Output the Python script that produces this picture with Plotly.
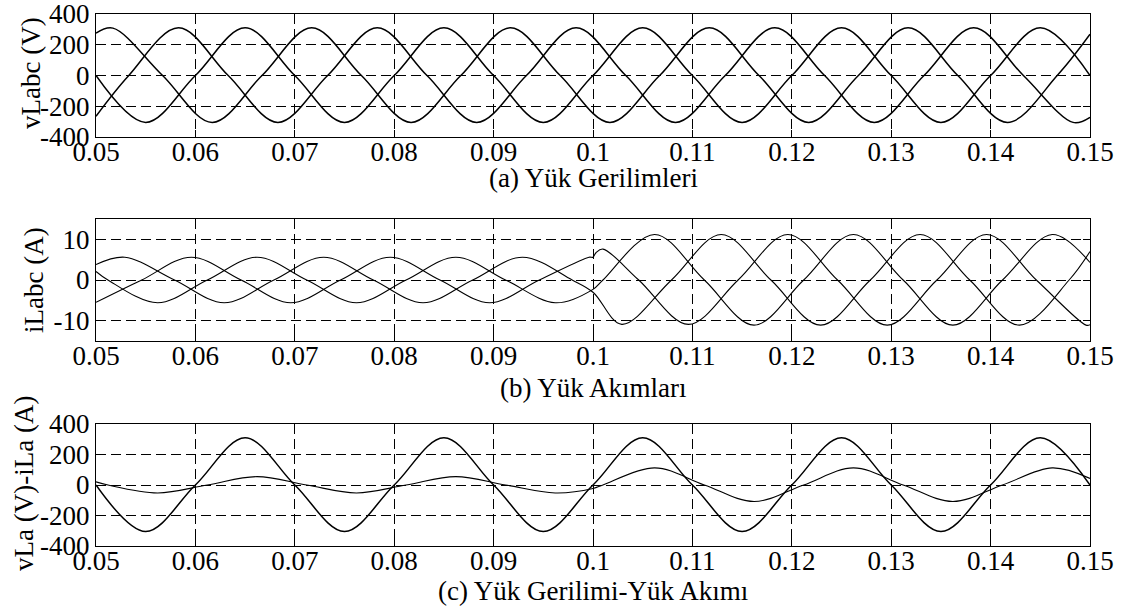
import plotly.graph_objects as go

# ---------------- data ----------------
# (a) load voltages, phase a / b / c  (keypoints: peaks, zero crossings, ends)
va_t = [0.05, 0.055, 0.06, 0.065, 0.07, 0.075, 0.08, 0.085, 0.09, 0.095, 0.1,
        0.105, 0.11, 0.115, 0.12, 0.125, 0.13, 0.135, 0.14, 0.145, 0.15]
va_v = [0, -305, 0, 310, 0, -305, 0, 310, 0, -305, 0,
        310, 0, -305, 0, 310, 0, -305, 0, 310, 0]

vb_t = [0.05, 0.0517, 0.0567, 0.0617, 0.0667, 0.0717, 0.0767, 0.0817, 0.0867, 0.0917, 0.0967,
        0.1017, 0.1067, 0.1117, 0.1167, 0.1217, 0.1267, 0.1317, 0.1367, 0.1417, 0.1467, 0.15]
vb_v = [275, 308, 0, -305, 0, 310, 0, -305, 0, 310, 0,
        -305, 0, 310, 0, -305, 0, 310, 0, -305, 0, 268]

vc_t = [0.05, 0.0533, 0.0583, 0.0633, 0.0683, 0.0733, 0.0783, 0.0833, 0.0883, 0.0933, 0.0983,
        0.1033, 0.1083, 0.1133, 0.1183, 0.1233, 0.1283, 0.1333, 0.1383, 0.1433, 0.1483, 0.15]
vc_v = [-265, 0, 310, 0, -305, 0, 310, 0, -305, 0, 310,
        0, -305, 0, 310, 0, -305, 0, 310, 0, -305, -272]

# (b) load currents, phase a / b / c
ia_t = [0.05, 0.0512, 0.0562, 0.0612, 0.0662, 0.0712, 0.0762, 0.0812, 0.0862, 0.0912, 0.0962, 0.1,
        0.1010, 0.1062, 0.1112, 0.1162, 0.1212, 0.1262, 0.1312, 0.1362, 0.1412, 0.1462, 0.15]
ia_v = [2.1, 0, -5.6, 0, 5.6, 0, -5.6, 0, 5.6, 0, -5.6, -2.3,
        0, 11.2, 0, -11.1, 0, 11.2, 0, -11.1, 0, 11.2, 4.3]

ib_t = [0.05, 0.0529, 0.0579, 0.0629, 0.0679, 0.0729, 0.0779, 0.0829, 0.0879, 0.0929, 0.0979, 0.1,
        0.1029, 0.1079, 0.1129, 0.1179, 0.1229, 0.1279, 0.1329, 0.1379, 0.1429, 0.1479, 0.15]
ib_v = [3.8, 5.6, 0, -5.6, 0, 5.6, 0, -5.6, 0, 5.6, 0, -3.0,
        -10.9, 0, 11.2, 0, -11.1, 0, 11.2, 0, -11.1, 0, 7.0]

ic_t = [0.05, 0.0546, 0.0596, 0.0646, 0.0696, 0.0746, 0.0796, 0.0846, 0.0896, 0.0946, 0.0996, 0.1,
        0.1003, 0.1010, 0.1046, 0.1096, 0.1146, 0.1196, 0.1246, 0.1296, 0.1346, 0.1396, 0.1446, 0.1496, 0.15]
ic_v = [-5.5, 0, 5.6, 0, -5.6, 0, 5.6, 0, -5.6, 0, 5.6, 5.6,
        6.7, 7.6, 0, -10.9, 0, 11.2, 0, -11.1, 0, 11.2, 0, -11.1, -11.0]

# (c) phase-a voltage (uses va_*) and phase-a current drawn x10
ila_t = ia_t
ila_v = [21, 0, -52, 0, 55, 0, -52, 0, 55, 0, -52, -23,
         0, 112, 0, -108, 0, 112, 0, -108, 0, 112, 43]

x_ticks = [0.05, 0.06, 0.07, 0.08, 0.09, 0.1, 0.11, 0.12, 0.13, 0.14, 0.15]
x_tick_labels = ["0.05", "0.06", "0.07", "0.08", "0.09", "0.1",
                 "0.11", "0.12", "0.13", "0.14", "0.15"]
v_ticks = [-400, -200, 0, 200, 400]
v_tick_labels = ["-400", "-200", "0", "200", "400"]
i_ticks = [-10, 0, 10]
i_tick_labels = ["-10", "0", "10"]

captions = ["(a) Yük Gerilimleri", "(b) Yük Akımları", "(c) Yük Gerilimi-Yük Akımı"]
y_titles = ["vLabc (V)", "iLabc (A)", "vLa (V)-iLa (A)"]

# ---------------- figure ----------------
W, H = 1126, 611
FONT = "Liberation Serif"
FS = 27


def fx(p):
    return p / W


def fy(p):
    return 1 - p / H


fig = go.Figure()

volt_line = dict(color="black", width=1.5, shape="spline", smoothing=1.0)
cur_line = dict(color="black", width=1.1, shape="spline", smoothing=1.0)

for t, v in [(va_t, va_v), (vb_t, vb_v), (vc_t, vc_v)]:
    fig.add_trace(go.Scatter(x=t, y=v, mode="lines", line=volt_line,
                             xaxis="x", yaxis="y", showlegend=False))
for t, v in [(ia_t, ia_v), (ib_t, ib_v), (ic_t, ic_v)]:
    fig.add_trace(go.Scatter(x=t, y=v, mode="lines", line=cur_line,
                             xaxis="x2", yaxis="y2", showlegend=False))
fig.add_trace(go.Scatter(x=va_t, y=va_v, mode="lines", line=volt_line,
                         xaxis="x3", yaxis="y3", showlegend=False))
fig.add_trace(go.Scatter(x=ila_t, y=ila_v, mode="lines", line=cur_line,
                         xaxis="x3", yaxis="y3", showlegend=False))

x_dom = [fx(96), fx(1090)]
y_doms = [[fy(137), fy(14)], [fy(341), fy(219)], [fy(546), fy(424)]]

common = dict(showline=True, linecolor="black", linewidth=1.2, mirror="ticks",
              ticks="inside", ticklen=7, tickcolor="black", tickwidth=1,
              showgrid=True, gridcolor="black", gridwidth=1, griddash="10px,5px",
              zeroline=False, automargin=False, ticklabeloverflow="allow",
              tickfont=dict(family=FONT, size=FS, color="black"))

layout = dict(width=W, height=H, margin=dict(l=0, r=0, t=0, b=0, pad=0),
              paper_bgcolor="white", plot_bgcolor="white", showlegend=False)

for k in range(3):
    sx = "" if k == 0 else str(k + 1)
    layout["xaxis" + sx] = dict(common, domain=x_dom, anchor="y" + sx,
                                range=[0.05, 0.15], tickvals=x_ticks,
                                ticktext=x_tick_labels,
                                ticklabelposition="outside", ticklabelstandoff=-10)
    if k == 1:
        yr, tv, tt = [-15, 15], i_ticks, i_tick_labels
    else:
        yr, tv, tt = [-400, 400], v_ticks, v_tick_labels
    layout["yaxis" + sx] = dict(common, domain=y_doms[k], anchor="x" + sx,
                                range=yr, tickvals=tv, ticktext=tt)

fig.update_layout(**layout)

cap_y = [178, 388, 591]
for cap, yy in zip(captions, cap_y):
    fig.add_annotation(text=cap, x=fx(593), y=fy(yy), xref="paper", yref="paper",
                       showarrow=False, xanchor="center", yanchor="middle",
                       font=dict(family=FONT, size=FS, color="black"))

title_x = [31, 34, 24]
title_y = [73, 280, 484]
for ttl, xx, yy in zip(y_titles, title_x, title_y):
    fig.add_annotation(text=ttl, x=fx(xx), y=fy(yy), xref="paper", yref="paper",
                       showarrow=False, xanchor="center", yanchor="middle",
                       textangle=-90,
                       font=dict(family=FONT, size=FS, color="black"))

# the page body has a default 8px margin: remove it so the figure fills the window
fig.write_html("out.html",
               config={"displayModeBar": False},
               post_script="document.body.style.margin='0px';"
                           "document.body.style.overflow='hidden';")
